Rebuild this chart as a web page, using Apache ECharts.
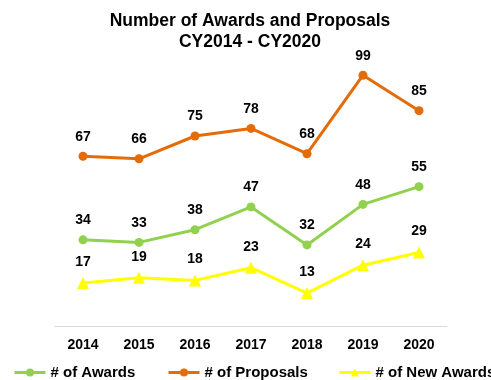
<!DOCTYPE html>
<html>
<head>
<meta charset="utf-8">
<script src="https://cdn.jsdelivr.net/npm/echarts@6/dist/echarts.min.js"></script>
<style>
  html, body { margin: 0; padding: 0; background: #fff; }
  #chart { width: 491px; height: 380px; }
</style>
</head>
<body>
<div id="chart"></div>
<script>
const years = ['2014', '2015', '2016', '2017', '2018', '2019', '2020'];
const awards = [34, 33, 38, 47, 32, 48, 55];
const proposals = [67, 66, 75, 78, 68, 99, 85];
const newAwards = [17, 19, 18, 23, 13, 24, 29];

const FONT = 'Liberation Sans, Arial, sans-serif';

const labelStyle = {
  show: true,
  position: 'top',
  distance: 8,
  color: '#000',
  fontFamily: FONT,
  fontWeight: 'bold',
  fontSize: 14
};

function lineSeries(name, data, color, symbol, size) {
  return {
    name: name,
    type: 'line',
    data: data,
    symbol: symbol,
    symbolSize: size,
    lineStyle: { color: color, width: 3 },
    itemStyle: { color: color },
    label: labelStyle,
    animation: false
  };
}

function legendAt(name, left) {
  return {
    data: [name],
    left: left,
    top: 365,
    itemWidth: 31,
    itemHeight: 10,
    itemGap: 0,
    padding: 0,
    lineStyle: { width: 3 },
    textStyle: {
      color: '#000',
      fontFamily: FONT,
      fontWeight: 'bold',
      fontSize: 15
    },
    selectedMode: false
  };
}

const chart = echarts.init(document.getElementById('chart'), null, { renderer: 'canvas' });
chart.setOption({
  backgroundColor: '#fff',
  title: {
    text: 'Number of Awards and Proposals\nCY2014 - CY2020',
    left: 245,
    textAlign: 'center',
    top: 6,
    textStyle: {
      color: '#000',
      fontFamily: FONT,
      fontWeight: 'bold',
      fontSize: 17.5,
      lineHeight: 21
    }
  },
  legend: [
    legendAt('# of Awards', 13),
    legendAt('# of Proposals', 167),
    legendAt('# of New Awards', 338)
  ],
  grid: { left: 55, right: 44, top: 22, bottom: 54, containLabel: false },
  xAxis: {
    type: 'category',
    data: years,
    boundaryGap: true,
    axisLine: { show: true, lineStyle: { color: '#d9d9d9', width: 1 } },
    axisTick: { show: false },
    axisLabel: {
      color: '#000',
      fontFamily: FONT,
      fontWeight: 'bold',
      fontSize: 14,
      margin: 12
    }
  },
  yAxis: {
    type: 'value',
    min: 0,
    max: 120,
    interval: 20,
    show: false,
    splitLine: { show: false }
  },
  series: [
    lineSeries('# of Awards', awards, '#92D050', 'circle', 9),
    lineSeries('# of Proposals', proposals, '#E36C09', 'circle', 9),
    lineSeries('# of New Awards', newAwards, '#FFFF00', 'triangle', 12)
  ]
});
</script>
</body>
</html>
